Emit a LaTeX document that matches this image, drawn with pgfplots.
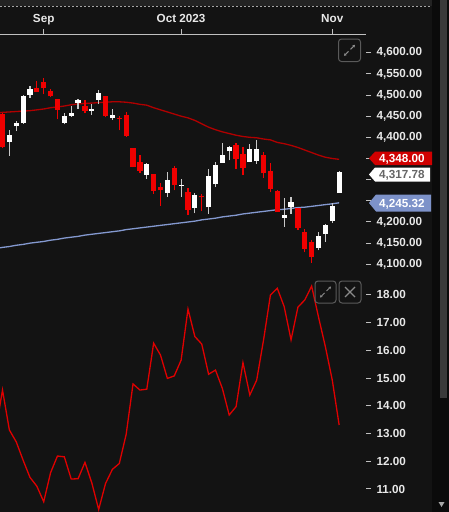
\documentclass[border=0pt]{standalone}
\usepackage{pgfplots}
\pgfplotsset{compat=1.18}
\usepackage{pgfplotstable}
\usepackage{fontspec}
\setmainfont{Liberation Sans}
\usetikzlibrary{arrows.meta}
\definecolor{bg}{HTML}{131313}
\definecolor{topband}{HTML}{232323}
\definecolor{strip}{HTML}{0B0B0B}
\definecolor{thumb}{HTML}{3A3A3A}
\definecolor{candlered}{HTML}{F00000}
\definecolor{wickwhite}{HTML}{C8C8C8}
\definecolor{mared}{HTML}{B00000}
\definecolor{mablue}{HTML}{8499D0}
\definecolor{vixred}{HTML}{E00000}
\definecolor{labelwhite}{HTML}{E8E8E8}
\definecolor{tickgray}{HTML}{C0C0C0}
\definecolor{tagred}{HTML}{D00000}
\definecolor{tagblue}{HTML}{7D92C9}
\definecolor{iconborder}{HTML}{5A5A5A}
\definecolor{icongray}{HTML}{8A8A8A}
\newcommand{\lblfont}{\fontsize{11.7bp}{14bp}\selectfont\bfseries}

% S&P 500 daily candles, index 0 = 24 Aug 2023 ... 49 = 2 Nov 2023
\pgfplotstableread{
i o h l c
1 4389.38 4418.46 4356.29 4405.71
2 4426.03 4439.56 4414.98 4433.31
3 4432.75 4500.14 4431.68 4497.63
4 4500.34 4521.65 4493.59 4514.87
9 4434.55 4457.81 4430.46 4451.14
10 4451.30 4473.53 4448.38 4457.49
11 4480.98 4490.77 4467.89 4487.46
13 4462.65 4479.39 4453.52 4467.44
14 4487.78 4511.99 4478.69 4505.10
16 4445.13 4466.36 4442.11 4453.53
21 4310.62 4338.51 4302.70 4337.44
24 4269.65 4317.27 4260.21 4299.70
26 4284.52 4300.58 4260.21 4288.39
28 4233.83 4268.50 4220.48 4263.75
30 4234.79 4324.10 4219.55 4308.50
31 4289.02 4341.73 4283.79 4335.66
32 4339.75 4385.46 4339.64 4358.24
33 4366.59 4378.64 4345.34 4376.95
36 4342.37 4383.33 4342.37 4373.63
37 4345.23 4393.57 4337.54 4373.20
41 4210.40 4255.84 4189.22 4217.04
42 4235.79 4259.38 4219.43 4247.68
46 4139.39 4177.47 4132.94 4166.82
47 4171.33 4195.55 4153.12 4193.80
48 4201.27 4245.64 4197.74 4237.86
49 4268.26 4319.72 4268.26 4317.78
}\upc

\pgfplotstableread{
i o h l c
0 4455.16 4458.30 4375.55 4376.31
5 4517.01 4532.26 4507.39 4507.66
6 4530.60 4541.25 4501.35 4515.77
7 4510.06 4514.29 4496.01 4496.83
8 4490.35 4490.35 4442.38 4465.48
12 4473.27 4487.11 4456.83 4461.90
15 4497.98 4497.98 4447.21 4450.32
17 4445.41 4449.85 4416.61 4443.95
18 4452.81 4461.03 4401.38 4402.20
19 4374.36 4375.70 4329.17 4330.00
20 4341.74 4357.40 4316.49 4320.06
22 4312.88 4313.01 4265.98 4273.53
23 4282.63 4292.07 4238.63 4274.51
25 4328.18 4333.15 4274.86 4288.05
27 4269.75 4281.15 4216.45 4229.45
29 4259.31 4267.13 4225.91 4258.19
34 4380.94 4385.85 4325.43 4349.61
35 4360.49 4377.10 4311.97 4327.78
38 4357.35 4364.20 4303.84 4314.60
39 4321.36 4339.54 4269.69 4278.00
40 4273.85 4276.56 4223.03 4224.16
43 4232.42 4232.42 4181.42 4186.77
44 4175.99 4183.60 4127.90 4137.23
45 4152.93 4156.70 4103.78 4117.37
}\downc

% moving averages
\pgfplotstableread{
i red blue
-1 4457 4137
0 4459 4140
1 4460 4142
2 4461 4145
3 4462 4147
4 4463 4150
5 4465 4152
6 4467 4154
7 4470 4157
8 4472 4159
9 4474 4162
10 4477 4164
11 4479 4166
12 4480 4169
13 4481 4171
14 4482 4173
15 4483 4175
16 4484 4177
17 4484 4179
18 4483 4182
19 4481 4184
20 4478 4186
21 4476 4188
22 4470 4190
23 4465 4192
24 4460 4194
25 4455 4196
26 4450 4198
27 4446 4200
28 4440 4202
29 4432 4205
30 4424 4207
31 4418 4209
32 4413 4212
33 4409 4214
34 4405 4216
35 4402 4219
36 4400 4221
37 4399 4223
38 4396 4225
39 4394 4227
40 4388 4229
41 4385 4230
42 4381 4232
43 4376 4234
44 4370 4235
45 4364 4237
46 4358 4239
47 4353 4241
48 4350 4243
49 4348 4245.32
}\ma

% lower panel
\pgfplotstableread{
i v
-1 13.10
0 14.57
1 13.13
2 12.70
3 12.04
4 11.42
5 11.10
6 10.54
7 11.59
8 12.19
9 12.16
10 11.36
11 11.37
12 11.96
13 11.22
14 10.26
15 11.20
16 11.71
17 11.92
18 12.97
19 14.79
20 14.57
21 14.60
22 16.26
23 15.83
24 14.99
25 15.08
26 15.65
27 17.49
28 16.50
29 16.23
30 15.14
31 15.29
32 14.63
33 13.67
34 13.97
35 15.56
36 14.39
37 14.93
38 16.38
39 18.00
40 18.24
41 17.58
42 16.38
43 17.56
44 17.82
45 18.32
46 17.20
47 16.13
48 14.93
49 13.31
}\vix

\pgfplotsset{
  candlewick/.style={draw=none, no markers, mark options={draw opacity=0, fill opacity=0},
    error bars/.cd, y dir=plus, y explicit, error mark=none,
    error bar style={line width=1.2bp, draw=#1, draw opacity=1}},
  candlebody/.style={draw=none, no markers, mark options={draw opacity=0, fill opacity=0},
    error bars/.cd, y dir=plus, y explicit, error mark=none,
    error bar style={line width=5.2bp, draw=#1, draw opacity=1}},
}

\begin{document}
\begin{tikzpicture}
\fill[bg] (0,0) rectangle (449bp,-512bp);
\fill[topband] (0,0) rectangle (432bp,-6bp);
\draw[gray!70, line width=0.8bp, dash pattern=on 2bp off 2bp] (0,-6bp) -- (432bp,-6bp);
\fill[strip] (432bp,0) rectangle (449bp,-512bp);
\fill[thumb] (440bp,0) rectangle (447bp,-398bp);
\fill[gray!70] (438.5bp,-502bp) -- (444.5bp,-502bp) -- (441.5bp,-507bp) -- cycle;

\begin{axis}[
  at={(0bp,-34bp)}, anchor=north west,
  scale only axis, width=366bp, height=246bp,
  xmin=-0.364, xmax=52.91, ymin=4062.9, ymax=4644.2,
  axis x line*=top, axis y line*=right,
  x axis line style={draw=tickgray, line width=1bp},
  y axis line style={draw=none},
  xtick={6,26,48}, xticklabels={Sep, Oct 2023, Nov},
  ytick={4100,4150,...,4600},
  yticklabels={{4,100.00},{4,150.00},{4,200.00},{},{},{},{4,400.00},{4,450.00},{4,500.00},{4,550.00},{4,600.00}},
  tick align=outside, major tick length=5bp,
  xtick style={draw=tickgray, line width=1bp},
  ytick style={draw=tickgray, line width=1bp},
  tick label style={font=\lblfont, text=labelwhite},
  xticklabel style={text depth=0pt, yshift=2.5bp},
  yticklabel style={xshift=2bp},
]
\addplot[mablue, line width=1.3bp] table[x=i, y=blue] {\ma};
\addplot[mared, line width=1.3bp] table[x=i, y=red] {\ma};
\addplot[candlewick=wickwhite] table[x=i, y=l, y error expr={\thisrow{h}-\thisrow{l}}] {\upc};
\addplot[candlebody=white] table[x=i, y expr={min(\thisrow{o},\thisrow{c})}, y error expr={max(abs(\thisrow{c}-\thisrow{o}),2.6)}] {\upc};
\addplot[candlewick=candlered] table[x=i, y=l, y error expr={\thisrow{h}-\thisrow{l}}] {\downc};
\addplot[candlebody=candlered] table[x=i, y expr={min(\thisrow{o},\thisrow{c})}, y error expr={max(abs(\thisrow{c}-\thisrow{o}),2.6)}] {\downc};
\end{axis}

\begin{axis}[
  at={(0bp,-280bp)}, anchor=north west,
  scale only axis, width=366bp, height=232bp,
  xmin=-0.364, xmax=52.91, ymin=10.17, ymax=18.54,
  axis x line=none, axis y line*=right,
  y axis line style={draw=none},
  ytick={11,12,...,18},
  tick align=outside, major tick length=5bp,
  ytick style={draw=tickgray, line width=1bp},
  tick label style={font=\lblfont, text=labelwhite},
  yticklabel style={xshift=2bp, /pgf/number format/fixed, /pgf/number format/fixed zerofill, /pgf/number format/precision=2, /pgf/number format/assume math mode=true},
]
\addplot[vixred, line width=1.3bp] table[x=i, y=v] {\vix};
\end{axis}

% price tags
\fill[tagred] (369bp,-158.3bp) -- (375bp,-151.7bp) -- (432bp,-151.7bp) -- (432bp,-165bp) -- (375bp,-165bp) -- cycle;
\node[anchor=base west, inner sep=0, text=white, font=\lblfont] at (379bp,-162.5bp) {4,348.00};
\fill[white] (369bp,-174.5bp) -- (375bp,-167.5bp) -- (430bp,-167.5bp) -- (430bp,-181.5bp) -- (375bp,-181.5bp) -- cycle;
\node[anchor=base west, inner sep=0, text=black!60, font=\lblfont] at (379bp,-178.7bp) {4,317.78};
\fill[tagblue] (369bp,-203bp) -- (376bp,-194.5bp) -- (431bp,-194.5bp) -- (431bp,-211.5bp) -- (376bp,-211.5bp) -- cycle;
\node[anchor=base west, inner sep=0, text=white, font=\lblfont] at (379bp,-207.2bp) {4,245.32};

% panel buttons
\draw[iconborder, line width=1bp, rounded corners=3bp] (338.5bp,-39bp) rectangle (360.5bp,-61.5bp);
\draw[icongray, line width=1bp, -{Stealth[length=2.5bp,width=3bp]}] (350.5bp,-49.3bp) -- (355bp,-44.8bp);
\draw[icongray, line width=1bp, -{Stealth[length=2.5bp,width=3bp]}] (348.5bp,-51.3bp) -- (344bp,-55.8bp);
\draw[iconborder, line width=1bp, rounded corners=3bp] (315bp,-281bp) rectangle (336bp,-303bp);
\draw[icongray, line width=1bp, -{Stealth[length=2.5bp,width=3bp]}] (326.5bp,-291bp) -- (331bp,-286.5bp);
\draw[icongray, line width=1bp, -{Stealth[length=2.5bp,width=3bp]}] (324.5bp,-293bp) -- (320bp,-297.5bp);
\draw[iconborder, line width=1bp, rounded corners=3bp] (339bp,-281bp) rectangle (361bp,-303bp);
\draw[icongray, line width=1.2bp] (345bp,-287bp) -- (355bp,-297bp) (345bp,-297bp) -- (355bp,-287bp);

\pgfresetboundingbox
\useasboundingbox (0,0) rectangle (449bp,-512bp);
\end{tikzpicture}
\end{document}
